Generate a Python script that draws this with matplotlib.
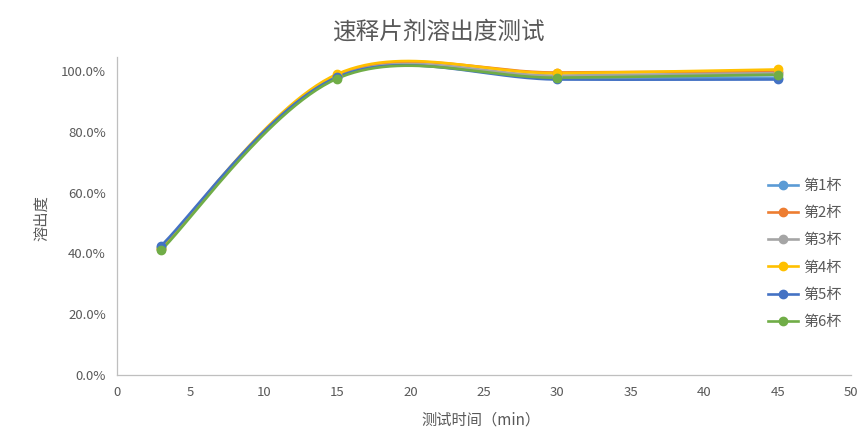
import numpy as np
import matplotlib
matplotlib.use("Agg")
import matplotlib.pyplot as plt
from matplotlib.ticker import FuncFormatter

plt.rcParams['font.family'] = ['Noto Sans CJK SC', 'DejaVu Sans']

times = [3, 15, 30, 45]
series_names = ['第1杯', '第2杯', '第3杯', '第4杯', '第5杯', '第6杯']
cup1 = [0.420, 0.980, 0.980, 0.978]
cup2 = [0.415, 0.985, 0.995, 0.998]
cup3 = [0.415, 0.980, 0.985, 0.993]
cup4 = [0.418, 0.990, 0.993, 1.005]
cup5 = [0.425, 0.980, 0.972, 0.972]
cup6 = [0.410, 0.975, 0.978, 0.988]
all_series = [cup1, cup2, cup3, cup4, cup5, cup6]
colors = ['#5B9BD5', '#ED7D31', '#A5A5A5', '#FFC000', '#4472C4', '#70AD47']
xticks = [0, 5, 10, 15, 20, 25, 30, 35, 40, 45, 50]
yticks = [0, 0.2, 0.4, 0.6, 0.8, 1.0]


def smooth(xs, ys, n=60):
    P = np.column_stack([xs, ys]).astype(float)
    m = len(P)
    out = []
    for i in range(m - 1):
        p0 = P[i - 1] if i > 0 else P[i]
        p1 = P[i]
        p2 = P[i + 1]
        p3 = P[i + 2] if i + 2 < m else P[i + 1]
        c1 = p1 + (p2 - p0) / 6.0
        c2 = p2 - (p3 - p1) / 6.0
        t = np.linspace(0, 1, n)[:, None]
        b = ((1 - t) ** 3) * p1 + 3 * ((1 - t) ** 2) * t * c1 + 3 * (1 - t) * t ** 2 * c2 + t ** 3 * p2
        out.append(b if i == 0 else b[1:])
    B = np.vstack(out)
    return B[:, 0], B[:, 1]


fig = plt.figure(figsize=(8.61, 4.32), dpi=100)
ax = fig.add_axes([117 / 861, 1 - 375 / 432, (851 - 117) / 861, (375 - 57) / 432])

for name, vals, c in zip(series_names, all_series, colors):
    sx, sy = smooth(times, vals)
    ax.plot(sx, sy, color=c, lw=1.9, solid_capstyle='round', zorder=2)
    ax.plot(times, vals, 'o', color=c, ms=6, zorder=3)
    ax.plot([], [], '-o', color=c, lw=1.9, ms=6, label=name)

ax.set_xlim(0, 50)
ax.set_ylim(0, 1.046)
ax.set_xticks(xticks)
ax.set_yticks(yticks)
ax.yaxis.set_major_formatter(FuncFormatter(lambda v, p: f'{v * 100:.1f}%'))
ax.tick_params(length=0, labelsize=9.5, colors='#595959', pad=8)
for s in ['top', 'right']:
    ax.spines[s].set_visible(False)
for s in ['left', 'bottom']:
    ax.spines[s].set_color('#BFBFBF')
    ax.spines[s].set_linewidth(0.9)

fig.text(438 / 861, 1 - 32 / 432, '速释片剂溶出度测试', ha='center', va='center',
         fontsize=17, color='#595959')
fig.text(42 / 861, 1 - 218 / 432, '溶出度', ha='center', va='center', rotation=90,
         fontsize=11, color='#595959')
fig.text(481 / 861, 1 - 420 / 432, '测试时间（min）', ha='center', va='center',
         fontsize=11, color='#595959')

leg = ax.legend(loc='upper left', bbox_to_anchor=(762 / 861, 1 - 173 / 432),
                bbox_transform=fig.transFigure, frameon=False, fontsize=10.8,
                labelcolor='#595959', handlelength=2.0, handletextpad=0.35,
                labelspacing=0.88, borderaxespad=0)

fig.savefig('out.png', dpi=100)
